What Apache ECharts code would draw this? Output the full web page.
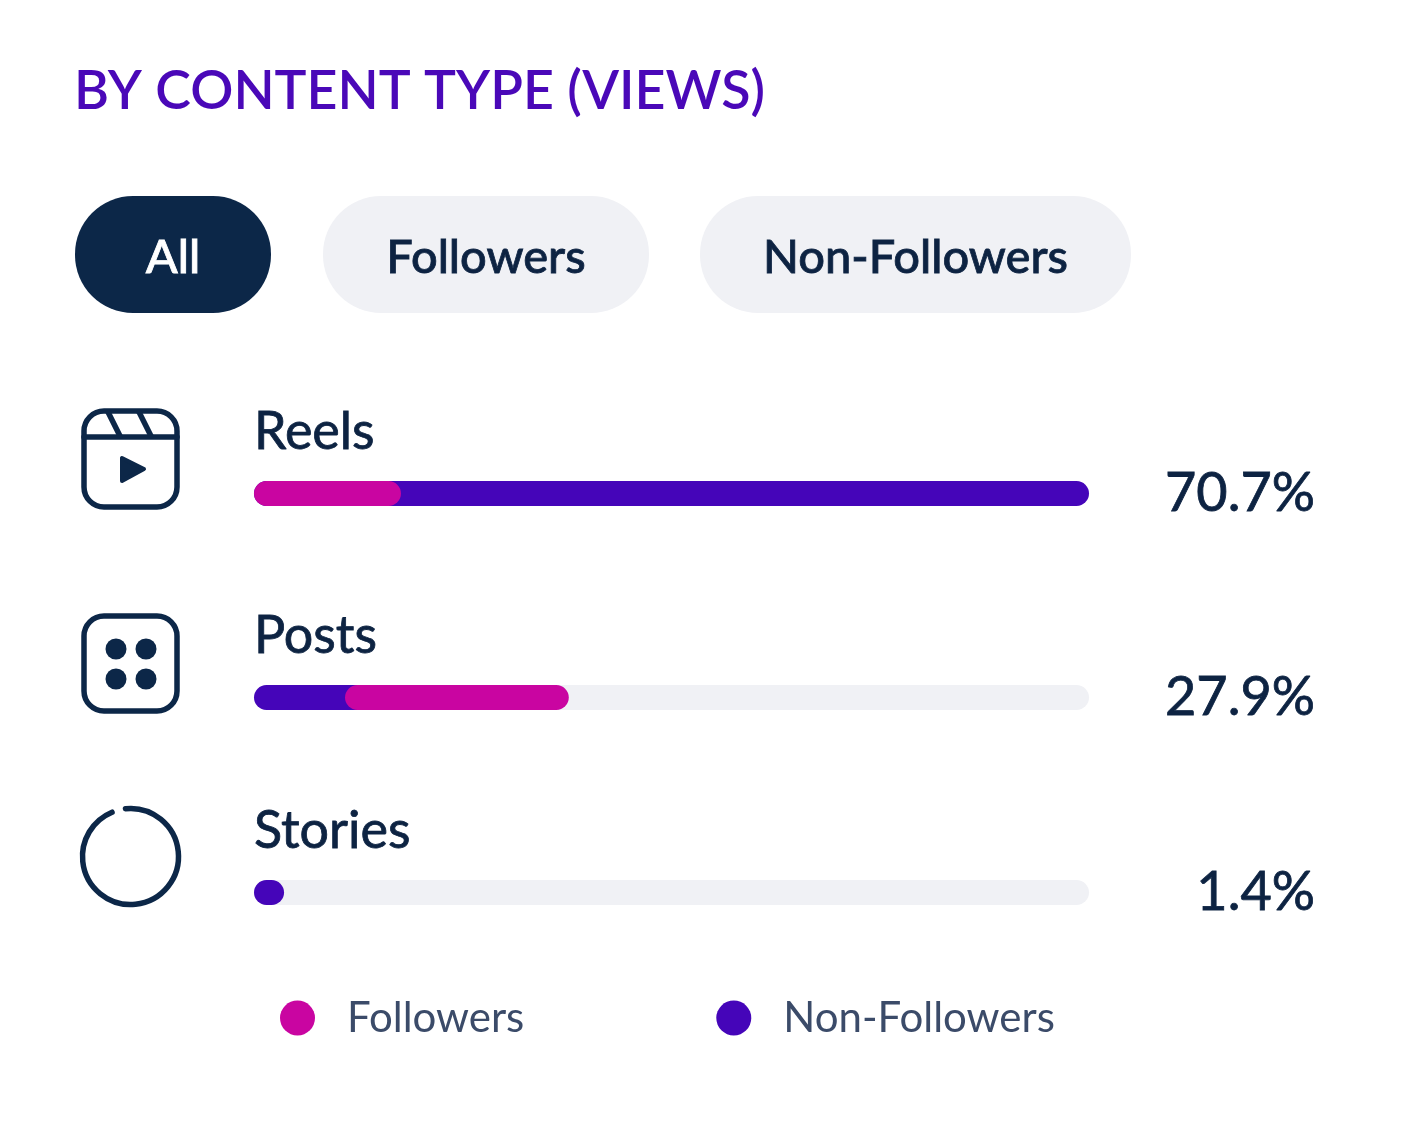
<!DOCTYPE html>
<html>
<head>
<meta charset="utf-8">
<style>html,body{margin:0;padding:0;background:#fff}#c{width:1402px;height:1122px}</style>
<script src="https://cdn.jsdelivr.net/npm/echarts@6/dist/echarts.min.js"></script>
</head>
<body>
<div id="c"></div>
<script>
const categories = ['Reels', 'Posts', 'Stories'];
const shareLabels = ['70.7%', '27.9%', '1.4%'];
const filters = ['All', 'Followers', 'Non-Followers'];
// bar spans, in percent of the full track: [start, end]
const trackSpan = [100, 100, 100];
const followersSpan = [[0, 17.6], [10.9, 37.7], null];
const nonFollowersSpan = [[0, 100], [0, 14], [0, 3.6]];

const FONT = 'Lato';
const DARK = '#0d2342';
const NAVY = '#0c2748';
const PILL = '#f0f1f5';
const MAGENTA = '#c905a1';
const PURPLE = '#4505b9';
const rowCenters = [493.5, 697.5, 892.5];
const barH = 25;

const chart = echarts.init(document.getElementById('c'), null, {renderer: 'canvas'});

function renderSpan(params, api) {
  const a = api.coord([api.value(0), 0]);
  const b = api.coord([api.value(1), 0]);
  const h = api.size([0, 1])[1];
  return {
    type: 'rect',
    shape: {x: a[0], y: a[1] - h / 2, width: b[0] - a[0], height: h, r: h / 2},
    style: {fill: api.visual('color')}
  };
}

const grids = [], xAxes = [], yAxes = [], series = [];
categories.forEach((cat, i) => {
  grids.push({left: 254, width: 835, top: rowCenters[i] - barH / 2, height: barH});
  xAxes.push({gridIndex: i, type: 'value', min: 0, max: 100, show: false});
  yAxes.push({
    gridIndex: i, type: 'category', data: [cat], position: 'right',
    axisLine: {show: false}, axisTick: {show: false}, splitLine: {show: false},
    axisLabel: {
      margin: 226, align: 'right', color: DARK, fontFamily: FONT, fontSize: 54,
      textBorderColor: DARK, textBorderWidth: 0.8,
      formatter: () => shareLabels[i]
    }
  });
  series.push({
    type: 'bar', name: 'track', xAxisIndex: i, yAxisIndex: i, silent: true,
    data: [trackSpan[i]], barWidth: '100%',
    itemStyle: {color: PILL, borderRadius: barH / 2},
    label: {
      show: true, position: 'insideLeft', distance: 0, offset: [0, -61],
      formatter: '{b}', color: DARK, fontFamily: FONT, fontSize: 52,
      textBorderColor: DARK, textBorderWidth: 0.8
    }
  });
  series.push({
    type: 'custom', name: 'Non-Followers', xAxisIndex: i, yAxisIndex: i, z: 3,
    renderItem: renderSpan, itemStyle: {color: PURPLE},
    encode: {x: [0, 1], y: 2},
    data: nonFollowersSpan[i] ? [[nonFollowersSpan[i][0], nonFollowersSpan[i][1], cat]] : []
  });
  series.push({
    type: 'custom', name: 'Followers', xAxisIndex: i, yAxisIndex: i, z: 4,
    renderItem: renderSpan, itemStyle: {color: MAGENTA},
    encode: {x: [0, 1], y: 2},
    data: followersSpan[i] ? [[followersSpan[i][0], followersSpan[i][1], cat]] : []
  });
});

const pillBoxes = [[75, 196], [323, 326], [700, 431]];
const pillGraphics = filters.map((t, i) => ({
  type: 'group', children: [
    {type: 'rect', shape: {x: pillBoxes[i][0], y: 196, width: pillBoxes[i][1], height: 117, r: 58},
      style: {fill: i === 0 ? NAVY : PILL}},
    {type: 'text', style: {
      x: pillBoxes[i][0] + pillBoxes[i][1] / 2, y: 258, text: t, align: 'center', verticalAlign: 'middle',
      fill: i === 0 ? '#ffffff' : DARK, stroke: i === 0 ? '#ffffff' : DARK, lineWidth: 0.8,
      font: '500 47px ' + FONT}}
  ]
}));

const stroke = {stroke: NAVY, lineWidth: 5.5, fill: null, lineCap: 'round', lineJoin: 'round'};
const iconGraphics = [
  {type: 'rect', shape: {x: 84, y: 411, width: 93, height: 96, r: 20}, style: stroke},
  {type: 'line', shape: {x1: 84, y1: 437, x2: 177, y2: 437}, style: stroke},
  {type: 'line', shape: {x1: 108, y1: 412, x2: 120, y2: 436}, style: stroke},
  {type: 'line', shape: {x1: 139, y1: 412, x2: 151, y2: 436}, style: stroke},
  {type: 'polygon', shape: {points: [[122, 458], [122, 481], [144, 469]]},
    style: {fill: NAVY, stroke: NAVY, lineWidth: 4, lineJoin: 'round'}},
  {type: 'rect', shape: {x: 84, y: 616, width: 93, height: 95, r: 20}, style: stroke},
  {type: 'circle', shape: {cx: 116, cy: 649, r: 10.5}, style: {fill: NAVY}},
  {type: 'circle', shape: {cx: 146, cy: 649, r: 10.5}, style: {fill: NAVY}},
  {type: 'circle', shape: {cx: 116, cy: 679, r: 10.5}, style: {fill: NAVY}},
  {type: 'circle', shape: {cx: 146, cy: 679, r: 10.5}, style: {fill: NAVY}},
  {type: 'arc', shape: {cx: 130.5, cy: 856.5, r: 48, startAngle: -96 * Math.PI / 180,
    endAngle: (360 - 112.6) * Math.PI / 180, clockwise: true}, style: stroke}
];

chart.setOption({
  animation: false,
  backgroundColor: '#ffffff',
  title: {
    text: 'BY CONTENT TYPE (VIEWS)', left: 74, top: 65, padding: 0,
    textStyle: {color: '#4a08b8', fontFamily: FONT, fontWeight: 600, fontSize: 53.7}
  },
  legend: {
    left: 275, top: 992, orient: 'horizontal', itemGap: 192, itemWidth: 35, itemHeight: 35,
    icon: 'circle', selectedMode: false,
    data: ['Followers', 'Non-Followers'],
    textStyle: {color: '#3b4b69', fontFamily: FONT, fontSize: 42, padding: [0, 0, 0, 27]}
  },
  tooltip: {show: false},
  grid: grids, xAxis: xAxes, yAxis: yAxes, series: series,
  graphic: {elements: pillGraphics.concat(iconGraphics)}
});
</script>
</body>
</html>
